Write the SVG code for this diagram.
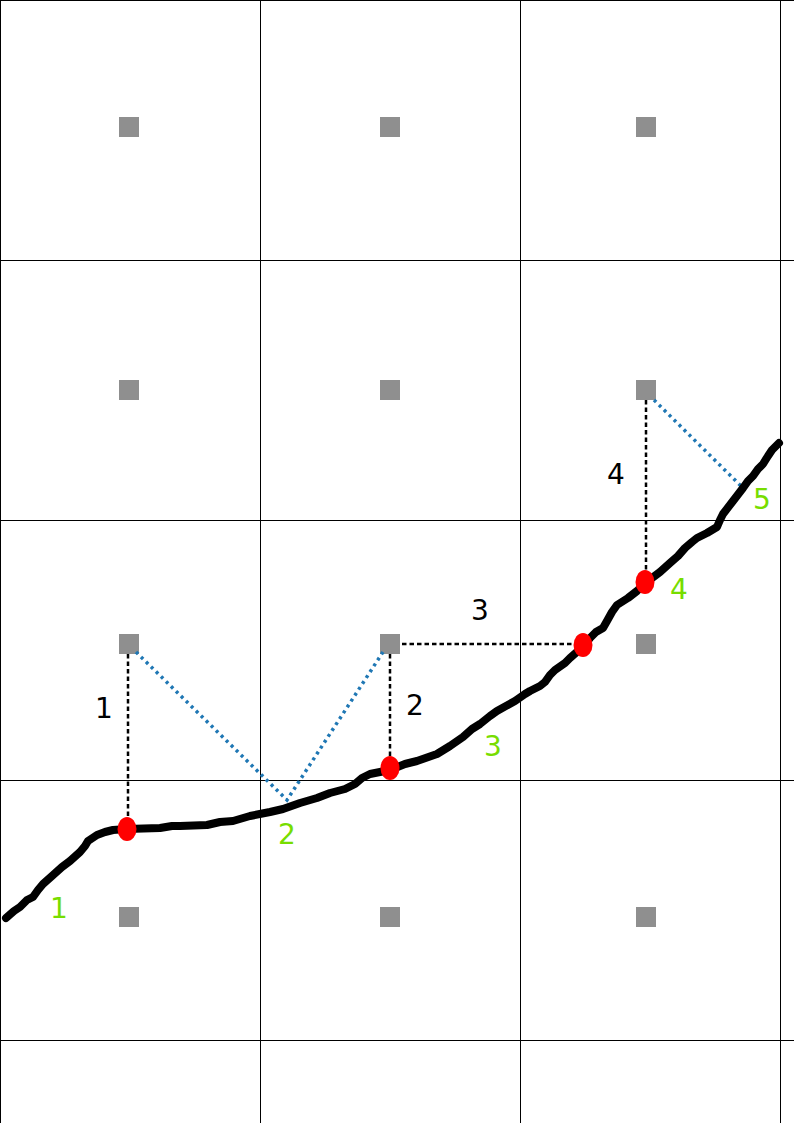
<svg xmlns="http://www.w3.org/2000/svg" width="794" height="1123" viewBox="0 0 794 1123">
<style>
.grid{stroke:#000;stroke-width:1;fill:none}
.sq{fill:#8f8f8f}
.dash{stroke:#000;stroke-width:2.5;stroke-dasharray:4.5,3;fill:none}
.dot{stroke:#1f77b4;stroke-width:3.5;stroke-dasharray:3,4;fill:none}
.curve{stroke:#000;stroke-width:8;fill:none;stroke-linecap:round;stroke-linejoin:round}
.pt{fill:#ff0000}
.lb{font-family:"DejaVu Sans",sans-serif;font-size:28px;text-anchor:middle;fill:#000}
.gl{font-family:"DejaVu Sans",sans-serif;font-size:28px;text-anchor:middle;fill:#77dd00}
</style>
<rect width="794" height="1123" fill="#fff"/>
<g id="grid">
<path class="grid" d="M0.5,0V1123M260.5,0V1123M520.5,0V1123M780.5,0V1123M0,0.5H794M0,260.5H794M0,520.5H794M0,780.5H794M0,1040.5H794"/>
</g>
<g id="cells">
<rect class="sq" x="119" y="117" width="20" height="20"/>
<rect class="sq" x="380" y="117" width="20" height="20"/>
<rect class="sq" x="636" y="117" width="20" height="20"/>
<rect class="sq" x="119" y="380" width="20" height="20"/>
<rect class="sq" x="380" y="380" width="20" height="20"/>
<rect class="sq" x="636" y="380" width="20" height="20"/>
<rect class="sq" x="119" y="634" width="20" height="20"/>
<rect class="sq" x="380" y="634" width="20" height="20"/>
<rect class="sq" x="636" y="634" width="20" height="20"/>
<rect class="sq" x="119" y="907" width="20" height="20"/>
<rect class="sq" x="380" y="907" width="20" height="20"/>
<rect class="sq" x="636" y="907" width="20" height="20"/>
</g>
<g id="connectors">
<path class="dash" d="M128,654V818"/>
<path class="dash" d="M390,654V758"/>
<path class="dash" d="M402,644H576"/>
<path class="dash" d="M646,400V572"/>
<path class="dot" d="M136,652L287,800L383,652"/>
<path class="dot" d="M654,400L742,487"/>
</g>
<g id="curve">
<path class="curve" d="M6,918L14,911L20,907L27,900L33,897L38,890L43,884L52,876L62,867L70,861L80,852L85,846L88,841L97,835L105,832L113,830L127,829L160,828L172,826L180,826L207,825L220,822L233,821L250,816L270,812L283,809L300,803L317,798L330,793L345,789L355,784L362,778L370,774L390,770L405,764L417,761L437,754L450,746L463,737L472,729L480,724L490,716L497,711L515,701L525,694L530,691L540,686L545,682L550,675L555,670L565,663L570,658L578,651L583,646L590,638L596,632L603,628L607,621L612,612L617,605L628,598L637,591L645,583L652,578L660,572L670,563L678,556L685,548L692,542L697,538L707,533L717,527L720,520L723,514L733,501L743,488L748,481L753,476L758,469L763,464L768,456L772,450L779,443"/>
</g>
<g id="points">
<ellipse class="pt" cx="127" cy="829" rx="9.5" ry="12"/>
<ellipse class="pt" cx="390" cy="768" rx="9.5" ry="12"/>
<ellipse class="pt" cx="583" cy="645" rx="9.5" ry="12"/>
<ellipse class="pt" cx="645" cy="582" rx="9.5" ry="12"/>
</g>
<g id="labels">
<text class="lb" x="104" y="718">1</text>
<text class="lb" x="415" y="715">2</text>
<text class="lb" x="480" y="620">3</text>
<text class="lb" x="616" y="484">4</text>
<text class="gl" x="59" y="918">1</text>
<text class="gl" x="287" y="844">2</text>
<text class="gl" x="493" y="756">3</text>
<text class="gl" x="679" y="599">4</text>
<text class="gl" x="762" y="509">5</text>
</g>
</svg>
